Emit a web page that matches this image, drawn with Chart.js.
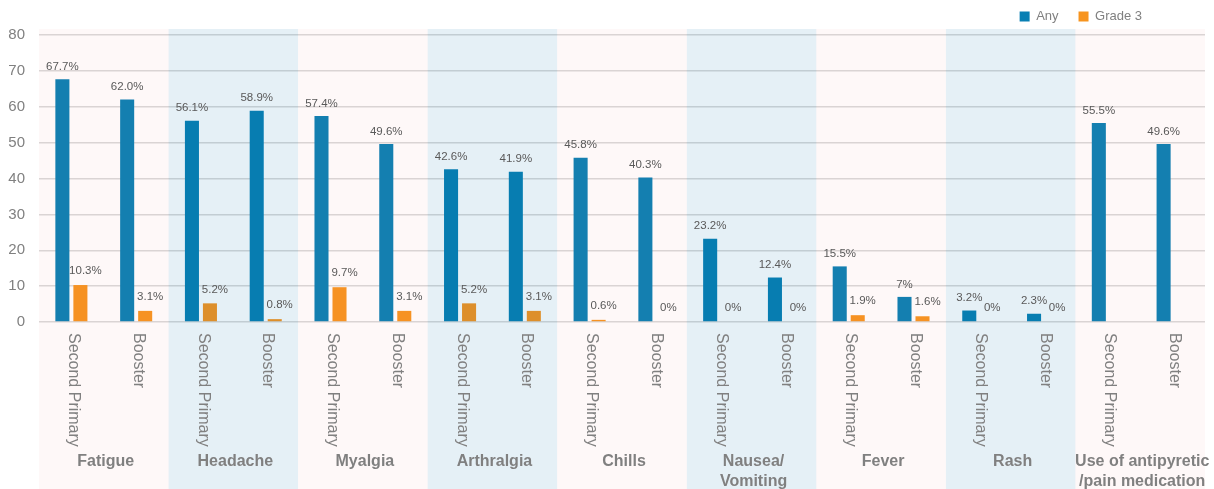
<!DOCTYPE html>
<html>
<head>
<meta charset="utf-8">
<script src="https://cdn.jsdelivr.net/npm/chart.js@4/dist/chart.umd.min.js"></script>
<style>
  html, body { margin: 0; padding: 0; background: #fff; }
  #wrap { width: 1214px; height: 489px; }
</style>
</head>
<body>
<div id="wrap"><canvas id="myChart"></canvas></div>
<script>
const FONT = '"Liberation Sans", Arial, sans-serif';

// symptom groups (multi-line names as arrays) and the two doses inside each group
const groups = [
  ['Fatigue'], ['Headache'], ['Myalgia'], ['Arthralgia'], ['Chills'],
  ['Nausea/', 'Vomiting'], ['Fever'], ['Rash'], ['Use of antipyretic', '/pain medication']
];
const doses = ['Second Primary', 'Booster'];

const anyValues = [67.7, 62.0, 56.1, 58.9, 57.4, 49.6, 42.6, 41.9, 45.8, 40.3, 23.2, 12.4, 15.5, 7, 3.2, 2.3, 55.5, 49.6];
const grade3Values = [10.3, 3.1, 5.2, 0.8, 9.7, 3.1, 5.2, 3.1, 0.6, 0, 0, 0, 1.9, 1.6, 0, 0, null, null];
const anyText = ['67.7%', '62.0%', '56.1%', '58.9%', '57.4%', '49.6%', '42.6%', '41.9%', '45.8%', '40.3%', '23.2%', '12.4%', '15.5%', '7%', '3.2%', '2.3%', '55.5%', '49.6%'];
const grade3Text = ['10.3%', '3.1%', '5.2%', '0.8%', '9.7%', '3.1%', '5.2%', '3.1%', '0.6%', '0%', '0%', '0%', '1.9%', '1.6%', '0%', '0%', '', ''];
const yTicks = [0, 10, 20, 30, 40, 50, 60, 70, 80];

const labels = [];
groups.forEach(g => doses.forEach(d => labels.push(g.join(' ') + ' - ' + d)));

const valueText = [anyText, grade3Text];

const decor = {
  id: 'decor',
  beforeDraw(chart) {
    // move the legend a bit up and in from the right edge
    chart.legend.top = -10;
    chart.legend.right = 1162;
  },
  afterDatasetsDraw(chart) {
    const {ctx, chartArea, scales: {x}} = chart;
    const step = x.getPixelForValue(1) - x.getPixelForValue(0);

    // alternating group bands, laid over the bars like the original
    groups.forEach((g, i) => {
      const left = x.getPixelForValue(i * 2) - step / 2;
      ctx.fillStyle = i % 2 ? 'rgba(0,110,170,0.1)' : 'rgba(230,120,120,0.055)';
      ctx.fillRect(left, chartArea.top - 6, step * 2, chart.height - chartArea.top + 6);
    });

    // value labels
    ctx.save();
    ctx.font = '11.5px ' + FONT;
    ctx.fillStyle = '#595959';
    ctx.textAlign = 'center';
    ctx.textBaseline = 'middle';
    chart.data.datasets.forEach((ds, d) => {
      chart.getDatasetMeta(d).data.forEach((bar, i) => {
        if (ds.data[i] === null) return;
        const dx = d === 0 ? 0 : 5;
        const dy = d === 0 ? 12.5 : 14;
        ctx.fillText(valueText[d][i], bar.x + dx, bar.y - dy);
      });
    });
    ctx.restore();
  },
  afterDraw(chart) {
    const {ctx, chartArea, scales: {x}} = chart;
    ctx.save();
    ctx.fillStyle = '#808080';

    // dose labels, rotated clockwise
    ctx.font = '16px ' + FONT;
    ctx.textAlign = 'left';
    ctx.textBaseline = 'middle';
    labels.forEach((l, i) => {
      ctx.save();
      ctx.translate(x.getPixelForValue(i) + 2, chartArea.bottom + 11);
      ctx.rotate(Math.PI / 2);
      ctx.fillText(doses[i % 2], 0, 0);
      ctx.restore();
    });

    // group names
    ctx.font = 'bold 16px ' + FONT;
    ctx.textAlign = 'center';
    groups.forEach((g, i) => {
      const cx = (x.getPixelForValue(i * 2) + x.getPixelForValue(i * 2 + 1)) / 2 + 2;
      g.forEach((line, j) => ctx.fillText(line, cx, chartArea.bottom + 140 + j * 19.5));
    });
    ctx.restore();
  }
};

const config = {
  type: 'bar',
  data: {
    labels: labels,
    datasets: [
      {
        label: 'Any',
        data: anyValues,
        backgroundColor: '#087fb3',
        categoryPercentage: 0.556,
        barPercentage: 0.78
      },
      {
        label: 'Grade 3',
        data: grade3Values,
        backgroundColor: '#f7941e',
        categoryPercentage: 0.556,
        barPercentage: 0.78
      }
    ]
  },
  options: {
    responsive: true,
    maintainAspectRatio: false,
    animation: false,
    layout: { padding: { left: 8, right: 9, top: 0, bottom: 159 } },
    plugins: {
      tooltip: { enabled: false },
      legend: {
        position: 'top',
        align: 'end',
        maxHeight: 35,
        labels: {
          boxWidth: 10,
          boxHeight: 10,
          padding: 20,
          color: '#808080',
          font: { family: FONT, size: 13 }
        }
      }
    },
    scales: {
      x: {
        ticks: { display: false },
        grid: { display: false },
        border: { display: false }
      },
      y: {
        min: 0,
        max: 80,
        afterBuildTicks(axis) { axis.ticks = yTicks.map(v => ({value: v})); },
        afterFit(axis) { axis.width = 31; },
        ticks: {
          padding: 14,
          color: '#808080',
          font: { family: FONT, size: 15 }
        },
        grid: { color: '#d9d9d9', lineWidth: 1.5, drawTicks: false },
        border: { display: false }
      }
    }
  },
  plugins: [decor]
};

var myChart = new Chart(document.getElementById('myChart'), config);
</script>
</body>
</html>
